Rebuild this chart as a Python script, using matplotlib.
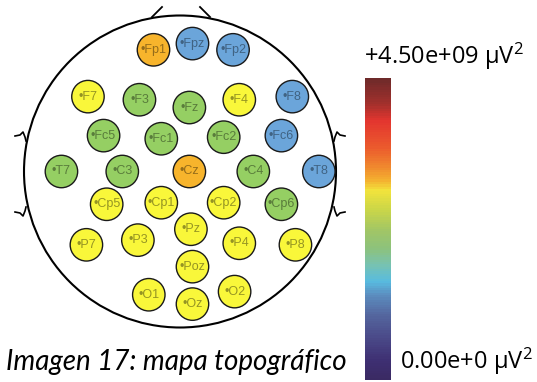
import numpy as np
import matplotlib
matplotlib.use("Agg")
import matplotlib.pyplot as plt
from matplotlib.patches import Circle
from matplotlib.colors import LinearSegmentedColormap, ListedColormap, BoundaryNorm, Normalize
from matplotlib.cm import ScalarMappable

''' Mapa topográfico de potencia por electrodo (sistema 10-20) '''

plt.rcParams["mathtext.fontset"] = "custom"
plt.rcParams["mathtext.rm"] = "Open Sans"
plt.rcParams["mathtext.it"] = "Open Sans:italic"

# --- DATOS ---
# posicións dos electrodos no escalpo (cabeza = círculo unidade)
electrodos = ["Fp1", "Fpz", "Fp2",
              "F7", "F3", "Fz", "F4", "F8",
              "Fc5", "Fc1", "Fc2", "Fc6",
              "T7", "C3", "Cz", "C4", "T8",
              "Cp5", "Cp1", "Cp2", "Cp6",
              "P7", "P3", "Pz", "P4", "P8",
              "Poz", "O1", "Oz", "O2"]
pos_x = [-0.17, 0.08, 0.34,
         -0.59, -0.26, 0.06, 0.38, 0.72,
         -0.49, -0.12, 0.28, 0.65,
         -0.76, -0.37, 0.06, 0.47, 0.89,
         -0.47, -0.12, 0.28, 0.65,
         -0.60, -0.27, 0.07, 0.38, 0.74,
         0.08, -0.20, 0.08, 0.35]
pos_y = [0.78, 0.82, 0.78,
         0.48, 0.46, 0.41, 0.46, 0.48,
         0.23, 0.21, 0.22, 0.23,
         0.00, 0.00, 0.00, 0.00, 0.00,
         -0.21, -0.20, -0.20, -0.21,
         -0.47, -0.44, -0.37, -0.46, -0.47,
         -0.61, -0.79, -0.85, -0.77]
# potencia (µV^2)
potencia = [3.3e9, 1.3e9, 1.3e9,
            2.8e9, 2.2e9, 2.2e9, 2.8e9, 1.3e9,
            2.2e9, 2.2e9, 2.2e9, 1.3e9,
            2.2e9, 2.2e9, 3.3e9, 2.2e9, 1.3e9,
            2.8e9, 2.8e9, 2.8e9, 2.2e9,
            2.8e9, 2.8e9, 2.8e9, 2.8e9, 2.8e9,
            2.8e9, 2.8e9, 2.8e9, 2.8e9]
vmin, vmax = 0.0, 4.5e9

# escala de cor da barra
cbar_pos = [0.0, 0.06, 0.136, 0.215, 0.281, 0.325, 0.381, 0.434, 0.497,
            0.563, 0.629, 0.662, 0.705, 0.772, 0.861, 0.917, 1.0]
cbar_cores = ["#3A2A63", "#3E2F72", "#4A4988", "#54679F", "#5C8EC0", "#58BBE0",
              "#78C2B0", "#8CC27D", "#A2C665", "#CAD648", "#F2E33C", "#F4B030",
              "#F08A2E", "#EB5A2D", "#E3352F", "#A3302C", "#6E2A2A"]

# cores dos electrodos (niveis)
niveis = [0.0, 1.8e9, 2.5e9, 3.0e9, 4.5e9]
cores_niveis = ["#6BA5DA", "#95CF63", "#F9F73A", "#F7B42C"]

# --- FIGURA ---
W, H = 537, 382
CX, CY, R = 180.0, 171.5, 156.0

fig = plt.figure(figsize=(W / 100, H / 100), dpi=100)
ax = fig.add_axes([0, 0, 1, 1])
ax.set_xlim(-CX / R, (W - CX) / R)
ax.set_ylim(-(H - CY) / R, CY / R)
ax.axis("off")


def px(x, y):
    return (x - CX) / R, (CY - y) / R


# cabeza
ax.add_patch(Circle((0, 0), 1.0, fill=False, lw=1.5, ec="black", zorder=1))
# nariz
for seg in [[(152, 17), (162, 7)], [(200, 7), (210, 17)]]:
    xs, ys = zip(*[px(*p) for p in seg])
    ax.plot(xs, ys, color="black", lw=1.3)
# orellas
orella = [[(15, 136), (20, 135), (23, 132), (25, 137), (26, 141)],
          [(15, 212), (20, 213), (23, 216), (25, 211), (26, 207)]]
for o in orella:
    for lado in (1, -1):
        xs, ys = zip(*[px(CX + lado * (p[0] - CX), p[1]) for p in o])
        ax.plot(xs, ys, color="black", lw=1.2)

# electrodos
cmap_el = ListedColormap(cores_niveis)
norm_el = BoundaryNorm(niveis, cmap_el.N)
for nome, x, y, v in zip(electrodos, pos_x, pos_y, potencia):
    cor = np.array(cmap_el(norm_el(v)))
    ax.add_patch(Circle((x, y), 0.104, fc=cor, ec="#1a1a1a", lw=1.0, zorder=2))
    cor_txt = cor[:3] * 0.6
    ax.text(x, y, "\u2022" + nome, ha="center", va="center", fontsize=9,
            family="Liberation Sans", color=cor_txt, zorder=3)

# barra de cor
cmap = LinearSegmentedColormap.from_list("topo", list(zip(cbar_pos, cbar_cores)), N=128)
cax = fig.add_axes([365 / W, 2 / H, 26 / W, 302 / H])
cb = fig.colorbar(ScalarMappable(norm=Normalize(vmin, vmax), cmap=cmap), cax=cax)
cb.set_ticks([])
cb.outline.set_visible(False)

fig.text(524 / W, 1 - 64 / H, "+4.50e+09 \u00b5V$^2$", ha="right", va="baseline",
         fontsize=17, family="Open Sans")
fig.text(533 / W, 1 - 369 / H, "0.00e+0 \u00b5V$^2$", ha="right", va="baseline",
         fontsize=17, family="Open Sans")

# pé de imaxe
fig.text(347 / W, 1 - 370 / H, "Imagen 17: mapa topográfico", ha="right",
         va="baseline", fontsize=20, style="italic", family="Lato")

fig.savefig("out.png", dpi=100)
